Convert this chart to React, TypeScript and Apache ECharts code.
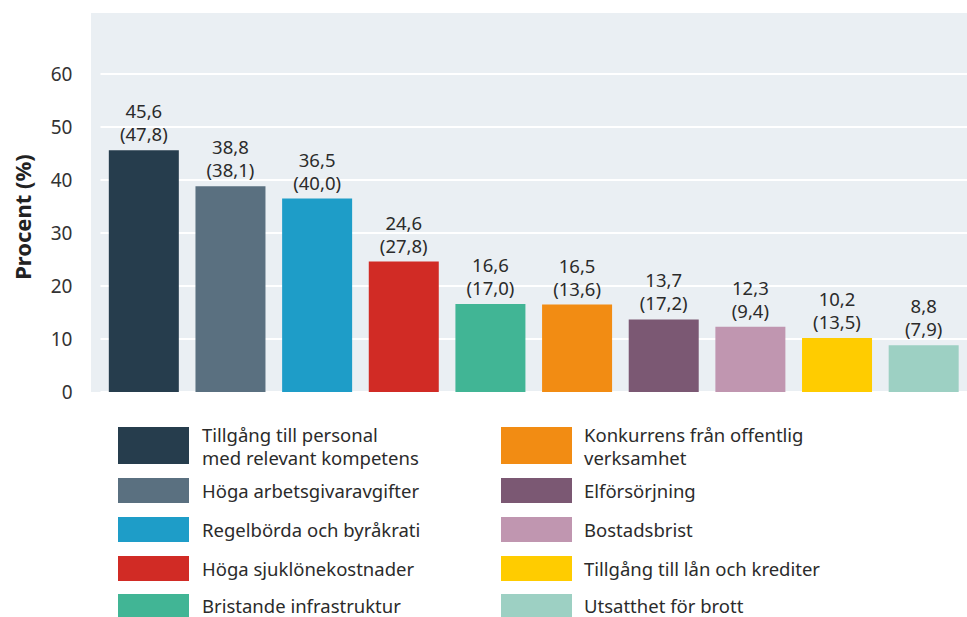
import React, { useEffect, useRef } from "react";
import * as echarts from "echarts";

const categories = [
  "Tillgång till personal\nmed relevant kompetens",
  "Höga arbetsgivaravgifter",
  "Regelbörda och byråkrati",
  "Höga sjuklönekostnader",
  "Bristande infrastruktur",
  "Konkurrens från offentlig\nverksamhet",
  "Elförsörjning",
  "Bostadsbrist",
  "Tillgång till lån och krediter",
  "Utsatthet för brott",
];
const valuesCurrent = [45.6, 38.8, 36.5, 24.6, 16.6, 16.5, 13.7, 12.3, 10.2, 8.8];
const valuesPrevious = [47.8, 38.1, 40.0, 27.8, 17.0, 13.6, 17.2, 9.4, 13.5, 7.9];
const colors = [
  "#263d4d",
  "#5a7080",
  "#1e9dc8",
  "#d12b25",
  "#41b595",
  "#f28c13",
  "#7b5873",
  "#c096b0",
  "#ffcc00",
  "#9dd0c3",
];
const yAxisName = "Procent (%)";

const FONT = "'Noto Sans', sans-serif";
const TEXT = "#2b2b2b";

const fmt = (v: number) => v.toFixed(1).replace(".", ",");

export default function App() {
  const ref = useRef<HTMLDivElement>(null);
  useEffect(() => {
    if (!ref.current) return;
    const chart = echarts.init(ref.current, undefined, { renderer: "svg" });

    // legend layout
    const rowCenters = [445.5, 490.5, 529.5, 568.5, 606.5];
    const legendEls: any[] = [];
    categories.forEach((name, i) => {
      const col = i < 5 ? 0 : 1;
      const row = i % 5;
      const twoLine = name.includes("\n");
      const h = twoLine ? 37 : 25;
      const cy = rowCenters[row];
      legendEls.push({
        type: "rect",
        shape: { x: col === 0 ? 118 : 501, y: cy - h / 2, width: 71, height: h },
        style: { fill: colors[i] },
      });
      legendEls.push({
        type: "text",
        x: col === 0 ? 202 : 584,
        y: row === 4 ? cy - 1 : cy,
        style: {
          text: name,
          fill: TEXT,
          font: `18.5px ${FONT}`,
          lineHeight: 23,
          verticalAlign: "middle",
          align: "left",
        },
      });
    });

    chart.setOption({
      animation: false,
      textStyle: { fontFamily: FONT },
      graphic: [
        {
          type: "rect",
          z: -100,
          shape: { x: 91, y: 13, width: 876, height: 379 },
          style: { fill: "#eaeff3" },
          silent: true,
        },
        {
          type: "text",
          x: 22,
          y: 217,
          rotation: Math.PI / 2,
          style: {
            text: yAxisName,
            fill: "#222",
            font: `bold 22px ${FONT}`,
            align: "center",
            verticalAlign: "middle",
          },
        },
        ...legendEls,
      ],
      grid: { left: 100.5, top: 74, width: 870, height: 318 },
      xAxis: {
        type: "category",
        data: categories,
        axisLine: { show: false },
        axisTick: { show: false },
        axisLabel: { show: false },
      },
      yAxis: {
        type: "value",
        min: 0,
        max: 60,
        interval: 10,
        axisLine: { show: false },
        axisTick: { show: false },
        axisLabel: { color: "#333", fontSize: 19, margin: 28, fontFamily: FONT },
        splitLine: { lineStyle: { color: "#ffffff", width: 2 } },
      },
      series: [
        {
          type: "bar",
          barWidth: 70,
          data: valuesCurrent.map((v, i) => ({ value: v, itemStyle: { color: colors[i] } })),
          label: {
            show: true,
            position: "top",
            distance: 5,
            color: TEXT,
            fontSize: 18.5,
            lineHeight: 23,
            fontFamily: FONT,
            formatter: (p: any) => `${fmt(p.value)}\n(${fmt(valuesPrevious[p.dataIndex])})`,
          },
        },
      ],
    });
    return () => chart.dispose();
  }, []);
  return <div ref={ref} style={{ width: 967, height: 617, position: "absolute", left: 0, top: 0 }} />;
}
